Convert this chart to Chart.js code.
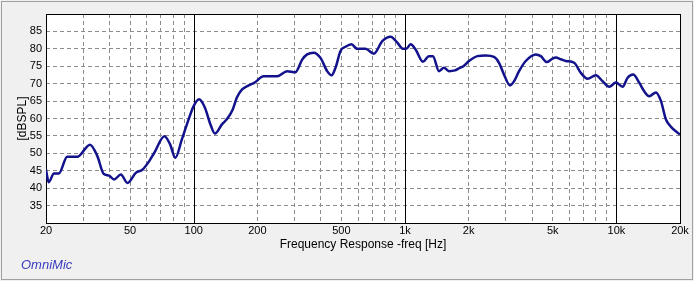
<!DOCTYPE html>
<html>
<head>
<meta charset="utf-8">
<script src="https://cdn.jsdelivr.net/npm/chart.js@4.4.1/dist/chart.umd.min.js"></script>
<style>
  html, body { margin: 0; padding: 0; background: #f0f0f0; }
  canvas { display: block; }
</style>
</head>
<body>
<canvas id="chart" width="694" height="281"></canvas>
<script>
// frequency points (Hz)
const freqs = [20, 20.6, 21.8, 23, 25.2, 28.1, 32.3, 35, 37.4, 39.8, 42, 45.2, 48.6, 53.2, 57.2, 61.5, 65,
  72.7, 77.4, 81.8, 87.9, 94.5, 99.8, 106, 113, 120, 126, 136, 144, 153, 160, 169, 182, 194,
  214, 248, 277, 303, 326, 344, 370, 398, 428, 449, 469, 495, 523, 558, 594, 650, 712, 780, 854, 919, 976,
  1013, 1062, 1122, 1215, 1297, 1355, 1447, 1528, 1613, 1722, 1800, 1888, 2006, 2200, 2408, 2636, 2784, 2940,
  3138, 3280, 3464, 3724, 4154, 4388, 4684, 4984, 5170, 5460, 5764, 6312, 6790, 7306, 7998, 8602, 9246, 9948,
  10700, 11300, 12012, 12824, 13544, 14304, 15392, 16256, 17164, 18126, 20000];
// level in dB SPL
const spl = [45.3, 41.7, 44.2, 44.2, 49, 49, 52.5, 49.2, 44.2, 43.6, 42.5, 43.9, 41.5, 44.4, 45.3, 47.7, 50.1,
  54.9, 52.5, 48.7, 54, 59.7, 63.5, 65.5, 63.1, 58.3, 55.7, 58.3, 59.9, 62.6, 66, 68.3, 69.5, 70.3,
  72.1, 72.1, 73.6, 73.3, 76.9, 78.4, 78.9, 77.4, 73.6, 72.4, 74.6, 79.4, 80.6, 81.3, 80, 80, 78.6, 82.2, 83.5, 81.8, 80,
  80, 81.3, 79.8, 76.3, 77.9, 77.9, 73.6, 74.6, 73.6, 73.8, 74.4, 75, 76.5, 77.9, 78.1, 77.7, 76, 72.6,
  69.5, 70.7, 73.6, 76.5, 78.4, 77.9, 76.2, 77.2, 77.5, 77, 76.5, 76, 73.1, 71.4, 72.4, 70.7, 69.1, 70.3,
  69.1, 71.7, 72.6, 70.3, 67.8, 66.4, 67.5, 65, 59.7, 57.6, 55.4];

// grid lines on the frequency axis and the ones that get a label
const xGrid = [20, 30, 40, 50, 60, 70, 80, 90, 100, 200, 300, 400, 500, 600, 700, 800, 900,
  1000, 2000, 3000, 4000, 5000, 6000, 7000, 8000, 9000, 10000, 20000];
const xLabels = { 20: "20", 50: "50", 100: "100", 200: "200", 500: "500", 1000: "1k",
  2000: "2k", 5000: "5k", 10000: "10k", 20000: "20k" };
const decades = [100, 1000, 10000];
const yMin = 30, yMax = 90, yStep = 5;

const points = freqs.map((f, i) => ({ x: f, y: spl[i] }));

const frame = {
  id: "frame",
  beforeDraw(chart) {
    const { ctx, chartArea: a } = chart;
    ctx.save();
    ctx.fillStyle = "#f0f0f0";
    ctx.fillRect(0, 0, chart.width, chart.height);
    ctx.strokeStyle = "#a0a0a0";
    ctx.lineWidth = 1;
    ctx.strokeRect(1.5, 1.5, chart.width - 3, chart.height - 3);
    ctx.fillStyle = "#ffffff";
    ctx.fillRect(a.left, a.top, a.right - a.left, a.bottom - a.top);
    ctx.restore();
  },
  beforeDatasetsDraw(chart) {
    const { ctx, chartArea: a, scales } = chart;
    ctx.save();
    ctx.strokeStyle = "#000";
    ctx.lineWidth = 1;
    decades.forEach((d) => {
      const x = Math.round(scales.x.getPixelForValue(d)) + 0.5;
      ctx.beginPath();
      ctx.moveTo(x, a.top);
      ctx.lineTo(x, a.bottom);
      ctx.stroke();
    });
    ctx.strokeRect(Math.round(a.left) + 0.5, Math.round(a.top) + 0.5,
      Math.round(a.right - a.left), Math.round(a.bottom - a.top));
    ctx.restore();
  },
  afterDraw(chart) {
    const { ctx } = chart;
    ctx.save();
    ctx.font = "italic 13px 'Liberation Sans', Arial, sans-serif";
    ctx.fillStyle = "#3a3ac0";
    ctx.textBaseline = "middle";
    ctx.fillText("OmniMic", 21, 265);
    ctx.restore();
  }
};

Chart.defaults.font.family = "'Liberation Sans', Arial, sans-serif";
Chart.defaults.color = "#000";

new Chart(document.getElementById("chart"), {
  type: "line",
  data: {
    datasets: [{
      data: points,
      borderColor: "#12128c",
      borderWidth: 2.5,
      pointRadius: 0,
      cubicInterpolationMode: "monotone",
      fill: false
    }]
  },
  options: {
    responsive: false,
    animation: false,
    devicePixelRatio: 1,
    layout: { padding: { left: 0, top: 14, right: 14, bottom: 0 } },
    plugins: { legend: { display: false }, tooltip: { enabled: false } },
    scales: {
      x: {
        type: "logarithmic",
        min: 20,
        max: 20000,
        afterBuildTicks: (scale) => { scale.ticks = xGrid.map((v) => ({ value: v })); },
        afterFit: (scale) => { scale.height = 58; },
        ticks: {
          autoSkip: false,
          maxRotation: 0,
          padding: 1,
          font: { size: 11 },
          callback: (v) => xLabels[v] || ""
        },
        grid: {
          drawTicks: false,
          color: (c) => (c.tick && (decades.includes(c.tick.value) || c.tick.value === 20 || c.tick.value === 20000)) ? "rgba(0,0,0,0)" : "#8c8c8c",
          lineWidth: 1
        },
        border: { display: false, dash: [4, 3] },
        title: {
          display: true,
          text: "Frequency Response -freq [Hz]",
          font: { size: 12 },
          padding: { top: 0, bottom: 29 }
        }
      },
      y: {
        min: yMin,
        max: yMax,
        afterFit: (scale) => { scale.width = 46; },
        ticks: {
          stepSize: yStep,
          padding: 4,
          font: { size: 11 },
          callback: (v) => (v === yMin || v === yMax) ? "" : String(v)
        },
        grid: {
          drawTicks: false,
          color: (c) => (c.tick && (c.tick.value === yMin || c.tick.value === yMax)) ? "rgba(0,0,0,0)" : "#8c8c8c",
          lineWidth: 1
        },
        border: { display: false, dash: [4, 3] },
        title: {
          display: true,
          text: "[dBSPL]",
          font: { size: 12 },
          padding: { top: 15, bottom: 0 }
        }
      }
    }
  },
  plugins: [frame]
});
</script>
</body>
</html>
